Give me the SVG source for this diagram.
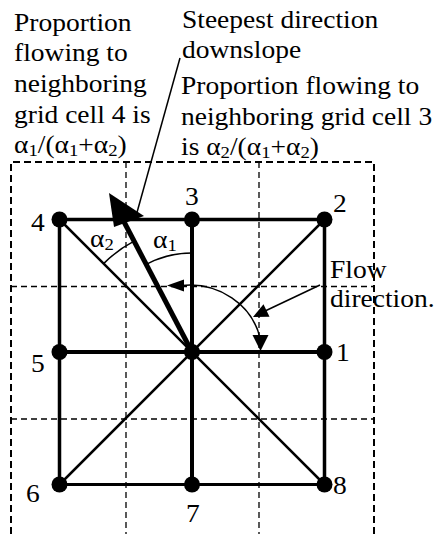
<svg xmlns="http://www.w3.org/2000/svg" width="439" height="534" viewBox="0 0 439 534">
<style>
.t{font-family:'Liberation Serif','DejaVu Serif',serif;font-size:25px;fill:#000}
.sub{font-size:17px}
.dOut{stroke:#000;stroke-width:2;stroke-dasharray:7,4;fill:none}
.dIn{stroke:#000;stroke-width:1.3;stroke-dasharray:6,4;fill:none}
.e{stroke:#000;fill:none;stroke-linecap:butt}
.thin{stroke:#000;stroke-width:1.5;fill:none}
.dot{fill:#000}
</style>
<rect width="439" height="534" fill="#fff"/>
<g id="grid">
<path class="dOut" d="M11,534 V162 H374 V534"/>
<path class="dIn" d="M126,162 V534 M259,162 V534 M11,286.5 H374 M11,419 H374"/>
</g>
<g id="connectors">
<path class="e" stroke-width="3.5" d="M59.5,219.5 H324.5 V484.5"/>
<path class="e" stroke-width="3.5" d="M59.5,219.5 V484.5"/>
<path class="e" stroke-width="3" d="M59.5,484.5 H324.5"/>
<path class="e" stroke-width="4" d="M59.5,352 H324.5 M192,219.5 V484.5"/>
<path class="e" stroke-width="2.5" d="M59.5,219.5 L324.5,484.5 M324.5,219.5 L59.5,484.5"/>
<path class="e" stroke-width="5" d="M192,352 L122,218"/>
<polygon points="109,193 144,216 114,227" fill="#000"/>
<path class="thin" d="M180,58 L136,216"/>
<path class="thin" d="M103.6,263.6 A125,125 0 0 1 134.1,241.2"/>
<path class="thin" d="M146.2,264.3 A99,99 0 0 1 192,253"/>
<path class="thin" stroke-width="1.8" d="M182,285.5 A72,67 0 0 1 260,338"/>
<polygon points="167,285.5 184,279.5 184,291.5" fill="#000"/>
<polygon points="260.5,351 252.5,335 268.5,335" fill="#000"/>
<path class="thin" d="M320,285 L264,311.5"/>
<polygon points="253,317 263.5,304.2 269.5,316.8" fill="#000"/>
</g>
<g font-family="Liberation Serif, DejaVu Serif, serif" font-size="25">
<g id="node1"><circle class="dot" cx="324.5" cy="352" r="8"/><text class="t" transform="translate(336,361) scale(1.1,1)">1</text></g>
<g id="node2"><circle class="dot" cx="324.5" cy="219.5" r="8"/><text class="t" transform="translate(333,212) scale(1.1,1)">2</text></g>
<g id="node3"><circle class="dot" cx="192" cy="219.5" r="8"/><text class="t" transform="translate(185,205) scale(1.1,1)">3</text></g>
<g id="node4"><circle class="dot" cx="59.5" cy="219.5" r="8"/><text class="t" transform="translate(31,231) scale(1.1,1)">4</text></g>
<g id="node5"><circle class="dot" cx="59.5" cy="352" r="8"/><text class="t" transform="translate(31,372) scale(1.1,1)">5</text></g>
<g id="node6"><circle class="dot" cx="59.5" cy="484.5" r="8"/><text class="t" transform="translate(26,502) scale(1.1,1)">6</text></g>
<g id="node7"><circle class="dot" cx="192" cy="484.5" r="8"/><text class="t" transform="translate(186,522) scale(1.1,1)">7</text></g>
<g id="node8"><circle class="dot" cx="324.5" cy="484.5" r="8"/><text class="t" transform="translate(333,494) scale(1.1,1)">8</text></g>
<g id="center"><circle class="dot" cx="192" cy="352" r="8"/></g>
<g id="angles">
<text class="t" transform="translate(90,247) scale(1.1,1)">α<tspan class="sub" dy="3">2</tspan></text>
<text class="t" transform="translate(153,248) scale(1.1,1)">α<tspan class="sub" dy="3">1</tspan></text>
</g>
<g id="label-left">
<text class="t" transform="translate(14,30.5) scale(1.1,1)">Proportion</text>
<text class="t" transform="translate(14,61.2) scale(1.1,1)">flowing to</text>
<text class="t" transform="translate(14,91.9) scale(1.1,1)">neighboring</text>
<text class="t" transform="translate(14,122.6) scale(1.1,1)">grid cell 4 is</text>
<text class="t" transform="translate(14,153.3) scale(1.1,1)">α<tspan class="sub" dy="3">1</tspan><tspan dy="-3">/(α</tspan><tspan class="sub" dy="3">1</tspan><tspan dy="-3">+α</tspan><tspan class="sub" dy="3">2</tspan><tspan dy="-3">)</tspan></text>
</g>
<g id="label-steepest">
<text class="t" transform="translate(182,27.5) scale(1.1,1)">Steepest direction</text>
<text class="t" transform="translate(182,57.5) scale(1.1,1)">downslope</text>
</g>
<g id="label-right">
<text class="t" transform="translate(181,94) scale(1.1,1)">Proportion flowing to</text>
<text class="t" transform="translate(181,124.5) scale(1.1,1)">neighboring grid cell 3</text>
<text class="t" transform="translate(181,155) scale(1.1,1)">is α<tspan class="sub" dy="3">2</tspan><tspan dy="-3">/(α</tspan><tspan class="sub" dy="3">1</tspan><tspan dy="-3">+α</tspan><tspan class="sub" dy="3">2</tspan><tspan dy="-3">)</tspan></text>
</g>
<g id="label-flow">
<text class="t" transform="translate(330,278) scale(1.1,1)">Flow</text>
<text class="t" transform="translate(330,307) scale(1.1,1)">direction.</text>
</g>
</g>
</svg>
